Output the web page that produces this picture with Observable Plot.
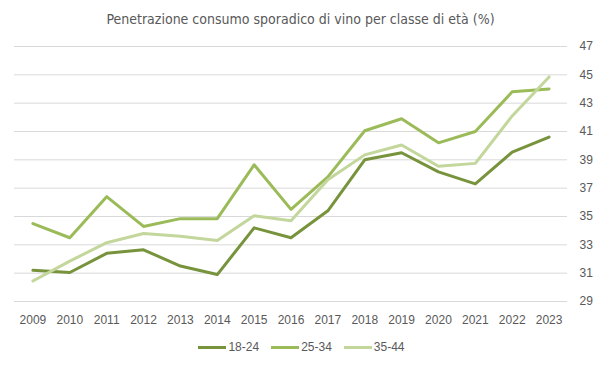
<!DOCTYPE html>
<html>
<head>
<meta charset="utf-8">
<script src="https://cdn.jsdelivr.net/npm/d3@7"></script>
<script src="https://cdn.jsdelivr.net/npm/@observablehq/plot@0.6"></script>
<style>
  body { margin: 0; background: #fff; font-family: "Liberation Sans", Arial, sans-serif; }
  #wrap { width: 601px; }
  #title { height: 36px; box-sizing: border-box; padding-top: 10px; text-align: center; font-family: "Liberation Sans Narrow", "DejaVu Sans Condensed", sans-serif; font-size: 14px; color: #595959; line-height: 18px; }
  #legend { display: flex; justify-content: center; align-items: center; gap: 12px; height: 22px; font-size: 12px; color: #595959; padding-left: 2px; }
  .item { display: flex; align-items: center; }
  .sw { width: 28px; height: 3px; margin-right: 2px; }
</style>
</head>
<body>
<div id="wrap">
  <div id="title">Penetrazione consumo sporadico di vino per classe di età (%)</div>
  <div id="chart"></div>
  <div id="legend"></div>
</div>
<script>
const years = ["2009","2010","2011","2012","2013","2014","2015","2016","2017","2018","2019","2020","2021","2022","2023"];
const s1824 = [31.2, 31.05, 32.4, 32.65, 31.5, 30.9, 34.2, 33.5, 35.4, 39.0, 39.5, 38.15, 37.3, 39.55, 40.6];
const s2534 = [34.5, 33.5, 36.4, 34.3, 34.85, 34.85, 38.65, 35.5, 37.8, 41.05, 41.9, 40.2, 41.0, 43.8, 44.0];
const s3544 = [30.45, 31.85, 33.15, 33.8, 33.6, 33.3, 35.05, 34.7, 37.6, 39.35, 40.05, 38.55, 38.75, 42.1, 44.85];
const seriesNames = ["18-24", "25-34", "35-44"];
const seriesColors = ["#77933c", "#9bbb59", "#c3d69b"];
const yTicks = [29, 31, 33, 35, 37, 39, 41, 43, 45, 47];

const allSeries = [s1824, s2534, s3544];
const rows = [];
allSeries.forEach((vals, i) => vals.forEach((v, j) => rows.push({year: years[j], value: v, series: seriesNames[i]})));

const chart = Plot.plot({
  width: 601,
  height: 300,
  marginTop: 10,
  marginBottom: 35,
  marginLeft: 14,
  marginRight: 34,
  style: { fontFamily: "Liberation Sans, Arial, sans-serif", fontSize: "12px", color: "#595959" },
  x: { type: "point", domain: years, padding: 0.5, round: false },
  y: { domain: [29, 47] },
  color: { domain: seriesNames, range: seriesColors },
  marks: [
    Plot.gridY(yTicks, { stroke: "#d9d9d9", strokeOpacity: 1, strokeWidth: 1 }),
    Plot.axisY(yTicks, { anchor: "right", tickSize: 0, tickPadding: 12, label: null, fill: "#595959" }),
    Plot.axisX({ tickSize: 0, tickPadding: 14, label: null, fill: "#595959" }),
    Plot.line(rows, { x: "year", y: "value", z: "series", stroke: "series", strokeWidth: 3, strokeLinejoin: "round", strokeLinecap: "round" })
  ]
});
document.getElementById("chart").appendChild(chart);

const legend = document.getElementById("legend");
seriesNames.forEach((n, i) => {
  const it = document.createElement("div");
  it.className = "item";
  const sw = document.createElement("div");
  sw.className = "sw";
  sw.style.background = seriesColors[i];
  const lb = document.createElement("span");
  lb.textContent = n;
  it.appendChild(sw); it.appendChild(lb);
  legend.appendChild(it);
});
</script>
</body>
</html>
